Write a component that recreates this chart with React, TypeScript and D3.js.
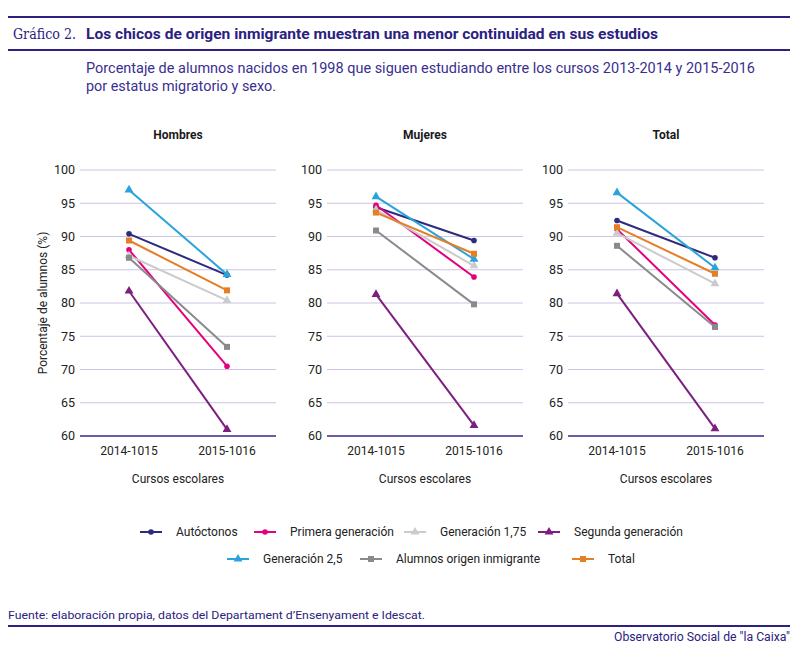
import { useEffect } from "react";
import * as d3 from "d3";

const panels = ["Hombres", "Mujeres", "Total"];
const cursos = ["2014-1015", "2015-1016"];
const seriesNames = [
  "Autóctonos",
  "Primera generación",
  "Generación 1,75",
  "Segunda generación",
  "Generación 2,5",
  "Alumnos origen inmigrante",
  "Total",
];
const seriesColors = ["#2e2a7e", "#e5007d", "#cbcbcb", "#7c1f7e", "#2aa3dd", "#8a8a8a", "#e57e25"];
const seriesMarkers = ["circle", "circle", "triangle", "triangle", "triangle", "square", "square"];

// values per panel: [serie][curso]
const hombres = [
  [90.4, 84.2],
  [88.0, 70.5],
  [87.1, 80.4],
  [81.8, 61.0],
  [97.0, 84.3],
  [86.8, 73.4],
  [89.4, 81.9],
];
const mujeres = [
  [94.4, 89.4],
  [94.7, 83.9],
  [94.0, 85.6],
  [81.3, 61.6],
  [96.0, 86.6],
  [90.9, 79.8],
  [93.6, 87.4],
];
const total = [
  [92.4, 86.8],
  [91.1, 76.7],
  [90.5, 82.9],
  [81.4, 61.1],
  [96.6, 85.3],
  [88.6, 76.4],
  [91.4, 84.4],
];
const panelValues = [hombres, mujeres, total];
const yTicks = [60, 65, 70, 75, 80, 85, 90, 95, 100];

const NAVY = "#2b2180";
const FONT = "Roboto, 'Liberation Sans', Arial, sans-serif";

const panelX = [80, 327, 568];
const panelW = 196;

const y = d3.scaleLinear().domain([60, 100]).range([436, 170]);

function Marker({ kind, x, yy, color }: { kind: string; x: number; yy: number; color: string }) {
  if (kind === "circle") return <circle cx={x} cy={yy} r={2.8} fill={color} />;
  if (kind === "square") return <rect x={x - 3} y={yy - 3} width={6} height={6} fill={color} />;
  const path = d3.symbol(d3.symbolTriangle, 34)() as string;
  return <path d={path} transform={`translate(${x},${yy})`} fill={color} />;
}

export default function App() {
  useEffect(() => {
    document.body.style.margin = "0";
  }, []);

  const line = d3.line<[number, number]>();

  const legendRows = [
    { idx: [0, 1, 2, 3], xs: [140, 254, 404, 538], y: 532 },
    { idx: [4, 5, 6], xs: [227, 360, 572], y: 559 },
  ];

  return (
    <svg width={800} height={650} style={{ display: "block", fontFamily: FONT }}>
      <rect width={800} height={650} fill="#fff" />
      {/* header */}
      <line x1={8} x2={790} y1={17} y2={17} stroke={NAVY} strokeWidth={2} />
      <text x={13} y={39} fontFamily="'DejaVu Serif', 'Liberation Serif', serif" fontSize={14} fill={NAVY}
        textLength={63} lengthAdjust="spacingAndGlyphs">
        Gráfico 2.
      </text>
      <text x={86} y={39} fontSize={15} fontWeight="bold" fill={NAVY} textLength={572} lengthAdjust="spacingAndGlyphs">
        Los chicos de origen inmigrante muestran una menor continuidad en sus estudios
      </text>
      <line x1={8} x2={790} y1={50} y2={50} stroke={NAVY} strokeWidth={2} />
      <text x={86} y={73} fontSize={14.5} fill="#3a2f8e" textLength={669} lengthAdjust="spacingAndGlyphs">
        Porcentaje de alumnos nacidos en 1998 que siguen estudiando entre los cursos 2013-2014 y 2015-2016
      </text>
      <text x={86} y={91} fontSize={14.5} fill="#3a2f8e" textLength={190} lengthAdjust="spacingAndGlyphs">
        por estatus migratorio y sexo.
      </text>

      {/* panels */}
      {panels.map((name, p) => {
        const x0 = panelX[p];
        const x = d3.scalePoint<string>().domain(cursos).range([x0, x0 + panelW]).padding(0.5);
        const vals = panelValues[p];
        return (
          <g key={name}>
            <text x={x0 + panelW / 2} y={139} textAnchor="middle" fontSize={12} fontWeight="bold" fill="#1a1a1a">
              {name}
            </text>
            {yTicks.map((t) => (
              <g key={t}>
                <line
                  x1={x0}
                  x2={x0 + panelW}
                  y1={y(t)}
                  y2={y(t)}
                  stroke={t === 60 ? "#6b5ca8" : "#cbc4e2"}
                  strokeWidth={t === 60 ? 2 : 1}
                />
                <text x={x0 - 5} y={y(t)} dy="0.35em" textAnchor="end" fontSize={12.5} fill="#222">
                  {t}
                </text>
              </g>
            ))}
            {cursos.map((c) => (
              <text key={c} x={x(c)} y={455} textAnchor="middle" fontSize={12} fill="#222">
                {c}
              </text>
            ))}
            <text x={x0 + panelW / 2} y={483} textAnchor="middle" fontSize={12} fill="#222">
              Cursos escolares
            </text>
            {vals.map((s, i) => {
              const pts: [number, number][] = s.map((v, j) => [x(cursos[j]) as number, y(v)]);
              return (
                <g key={i}>
                  <path d={line(pts) as string} fill="none" stroke={seriesColors[i]} strokeWidth={2} />
                  {pts.map((pt, j) => (
                    <Marker key={j} kind={seriesMarkers[i]} x={pt[0]} yy={pt[1]} color={seriesColors[i]} />
                  ))}
                </g>
              );
            })}
          </g>
        );
      })}
      <text
        transform={`translate(47,${(y(60) + y(100)) / 2}) rotate(-90)`}
        textAnchor="middle"
        fontSize={12}
        fill="#222"
      >
        Porcentaje de alumnos (%)
      </text>

      {/* legend */}
      {legendRows.map((row, r) =>
        row.idx.map((i, k) => {
          const lx = row.xs[k];
          return (
            <g key={`${r}-${i}`}>
              <line x1={lx} x2={lx + 22} y1={row.y} y2={row.y} stroke={seriesColors[i]} strokeWidth={2} />
              <Marker kind={seriesMarkers[i]} x={lx + 11} yy={row.y} color={seriesColors[i]} />
              <text x={lx + 36} y={row.y} dy="0.35em" fontSize={12} fill="#222">
                {seriesNames[i]}
              </text>
            </g>
          );
        })
      )}

      {/* footer */}
      <text x={8} y={619} fontSize={11.5} fill={NAVY} textLength={417} lengthAdjust="spacingAndGlyphs">
        Fuente: elaboración propia, datos del Departament d’Ensenyament e Idescat.
      </text>
      <line x1={8} x2={790} y1={626} y2={626} stroke={NAVY} strokeWidth={2} />
      <text x={790} y={641} textAnchor="end" fontSize={12} fill={NAVY} textLength={176} lengthAdjust="spacingAndGlyphs">
        Observatorio Social de "la Caixa"
      </text>
    </svg>
  );
}
